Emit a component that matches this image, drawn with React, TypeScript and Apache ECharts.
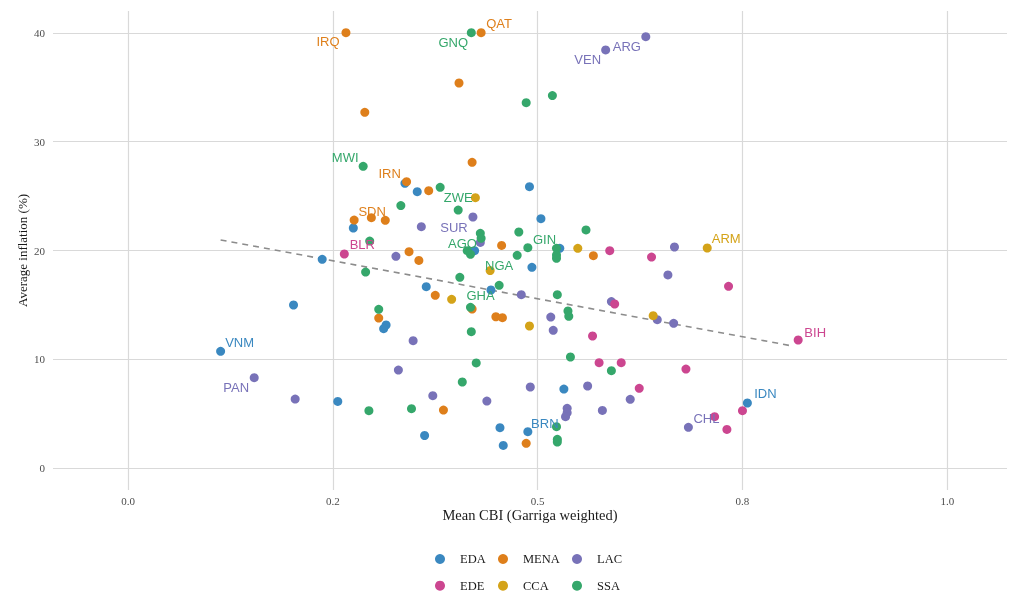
import { useEffect, useRef } from "react";
import * as echarts from "echarts";

// [mean CBI, average inflation %, optional country code]
type Pt = [number, number, string?];

const regions = ["EDA", "MENA", "LAC", "EDE", "CCA", "SSA"];
const colors = ["#3a88c0", "#de7f1b", "#7872b8", "#cc4690", "#d4a319", "#35a76b"];

const eda: Pt[] = [
  [0.338, 26.18], [0.353, 25.41], [0.49, 25.87], [0.504, 22.93], [0.275, 22.07],
  [0.423, 19.98], [0.527, 20.2], [0.237, 19.19], [0.493, 18.45], [0.364, 16.67],
  [0.443, 16.37], [0.315, 13.15], [0.312, 12.81], [0.532, 7.26], [0.256, 6.12],
  [0.454, 3.71], [0.488, 3.34, "BRN"], [0.362, 2.99], [0.458, 2.08], [0.202, 14.99],
  [0.113, 10.73, "VNM"], [0.756, 5.98, "IDN"],
];
const mena: Pt[] = [
  [0.266, 40.03, "IRQ"], [0.431, 40.03, "QAT"], [0.404, 35.4], [0.289, 32.7], [0.42, 28.11],
  [0.34, 26.33, "IRN"], [0.367, 25.5], [0.276, 22.8, "SDN"], [0.297, 23.02], [0.314, 22.77],
  [0.456, 20.47], [0.568, 19.52], [0.343, 19.89], [0.355, 19.09], [0.375, 15.88],
  [0.42, 14.62], [0.306, 13.79], [0.449, 13.91], [0.457, 13.82], [0.385, 5.33], [0.486, 2.27],
];
const lac: Pt[] = [
  [0.632, 39.66, "ARG"], [0.583, 38.44, "VEN"], [0.421, 23.08, "SUR"], [0.358, 22.19], [0.43, 20.74],
  [0.327, 19.46], [0.48, 15.94], [0.59, 15.3], [0.516, 13.88], [0.519, 12.66],
  [0.348, 11.71], [0.613, 6.32], [0.33, 9.01], [0.491, 7.45], [0.561, 7.54],
  [0.372, 6.65], [0.438, 6.16], [0.579, 5.3], [0.536, 5.49], [0.536, 5.09],
  [0.534, 4.72], [0.154, 8.31, "PAN"], [0.204, 6.34], [0.667, 20.32], [0.659, 17.75],
  [0.646, 13.64], [0.666, 13.3], [0.684, 3.74, "CHL"],
];
const ede: Pt[] = [
  [0.264, 19.68, "BLR"], [0.588, 19.98], [0.594, 15.08], [0.567, 12.14], [0.575, 9.69],
  [0.602, 9.69], [0.624, 7.33], [0.639, 19.4], [0.733, 16.71], [0.818, 11.77, "BIH"],
  [0.681, 9.1], [0.75, 5.27], [0.716, 4.72], [0.731, 3.55],
];
const cca: Pt[] = [
  [0.424, 24.86], [0.549, 20.2], [0.442, 18.15], [0.395, 15.51], [0.49, 13.06],
  [0.707, 20.23, "ARM"], [0.641, 14.01],
];
const ssa: Pt[] = [
  [0.419, 40.03, "GNQ"], [0.486, 33.59], [0.518, 34.24], [0.287, 27.74, "MWI"], [0.381, 25.81],
  [0.333, 24.13], [0.403, 23.72, "ZWE"], [0.43, 21.58], [0.431, 21.12], [0.477, 21.7],
  [0.559, 21.89], [0.295, 20.87], [0.418, 19.65, "AGO"], [0.414, 19.98], [0.488, 20.26],
  [0.523, 20.2, "GIN"], [0.523, 19.59], [0.523, 19.28], [0.475, 19.56, "NGA"], [0.29, 18.02],
  [0.405, 17.53], [0.453, 16.8], [0.524, 15.94], [0.418, 14.78, "GHA"], [0.306, 14.59],
  [0.537, 14.44], [0.538, 13.95], [0.419, 12.54], [0.54, 10.21], [0.59, 8.95],
  [0.425, 9.66], [0.408, 7.91], [0.294, 5.27], [0.346, 5.46], [0.523, 3.8],
  [0.524, 2.64], [0.524, 2.39],
];

// fitted line end points
const trendX = [0.113, 0.811];
const trendY = [20.97, 11.22];

const xTicks = [0, 0.25, 0.5, 0.75, 1];
const xTickLabels = ["0.0", "0.2", "0.5", "0.8", "1.0"];
const yTicks = [0, 10, 20, 30, 40];

// label placement (pixels from the point)
const labelOffset: Record<string, [number, number]> = {
  IRQ: [-18, 9], QAT: [18, -9], GNQ: [-18, 10], ARG: [-19, 10], VEN: [-18, 10],
  MWI: [-18, -9], IRN: [-17, -8], ZWE: [0, -13], SDN: [18, -9], SUR: [-19, 10],
  AGO: [-8, -11], GIN: [-12, -9], BLR: [18, -9], NGA: [-18, 10], GHA: [10, -12],
  VNM: [19, -9], PAN: [-18, 10], BIH: [17, -8], ARM: [19, -9], IDN: [18, -9],
  CHL: [18, -9], BRN: [17, -8],
};

const serif = "'Liberation Serif', 'DejaVu Serif', serif";
const sans = "'Liberation Sans', Arial, sans-serif";

export default function App() {
  const ref = useRef<HTMLDivElement>(null);
  useEffect(() => {
    if (!ref.current) return;
    const chart = echarts.init(ref.current, null, { renderer: "svg" });
    const byRegion = [eda, mena, lac, ede, cca, ssa];
    chart.setOption({
      animation: false,
      grid: { left: 53, right: 17, top: 11, bottom: 119 },
      xAxis: {
        type: "value",
        min: -0.0916,
        max: 1.0729,
        name: "Mean CBI (Garriga weighted)",
        nameLocation: "middle",
        nameGap: 17,
        nameMoveOverlap: false,
        nameTextStyle: { fontFamily: serif, fontSize: 14.5, color: "#1a1a1a" },
        axisLine: { show: false },
        axisTick: { show: false, customValues: xTicks },
        axisLabel: {
          customValues: xTicks,
          margin: 5,
          fontFamily: serif,
          fontSize: 11,
          color: "#4d4d4d",
          formatter: (v: number) => xTickLabels[xTicks.indexOf(v)] ?? "",
        },
        splitLine: { show: true, lineStyle: { color: "#d9d9d9", width: 1.2 } },
      },
      yAxis: {
        type: "value",
        min: -2.02,
        max: 42.02,
        name: "Average inflation (%)",
        nameLocation: "middle",
        nameGap: 24,
        nameMoveOverlap: false,
        nameTextStyle: { fontFamily: serif, fontSize: 13, color: "#1a1a1a" },
        axisLine: { show: false },
        axisTick: { show: false, customValues: yTicks },
        axisLabel: { customValues: yTicks, margin: 8, fontFamily: serif, fontSize: 11, color: "#4d4d4d" },
        splitLine: { show: true, lineStyle: { color: "#d9d9d9", width: 1.2 } },
      },
      legend: [
        ["EDA", "EDE"],
        ["MENA", "CCA"],
        ["LAC", "SSA"],
      ].map((d, i) => ({
        data: d,
        orient: "vertical",
        left: [430, 493, 567][i],
        top: 547,
        icon: "circle",
        itemWidth: 30,
        itemHeight: 10,
        itemGap: 12.7,
        textStyle: { fontFamily: serif, fontSize: 12.5, lineHeight: 14, color: "#1a1a1a" },
      })),
      series: [
        {
          type: "line",
          data: trendX.map((x, i) => [x, trendY[i]]),
          symbol: "none",
          silent: true,
          z: 2,
          lineStyle: { color: "#8c8c8c", width: 1.6, type: [6, 5] },
        },
        ...regions.map((r, i) => ({
          name: r,
          type: "scatter",
          symbolSize: 9,
          itemStyle: { color: colors[i], opacity: 1 },
          z: 3,
          data: byRegion[i].map(([x, y, code]) =>
            code
              ? {
                  value: [x, y],
                  label: {
                    show: true,
                    formatter: code,
                    position: "inside",
                    offset: labelOffset[code],
                    color: colors[i],
                    fontFamily: sans,
                    fontSize: 13,
                  },
                }
              : [x, y]
          ),
        })),
      ],
    });
    return () => chart.dispose();
  }, []);
  return <div ref={ref} style={{ position: "fixed", left: 0, top: 0, width: 1024, height: 609 }} />;
}
